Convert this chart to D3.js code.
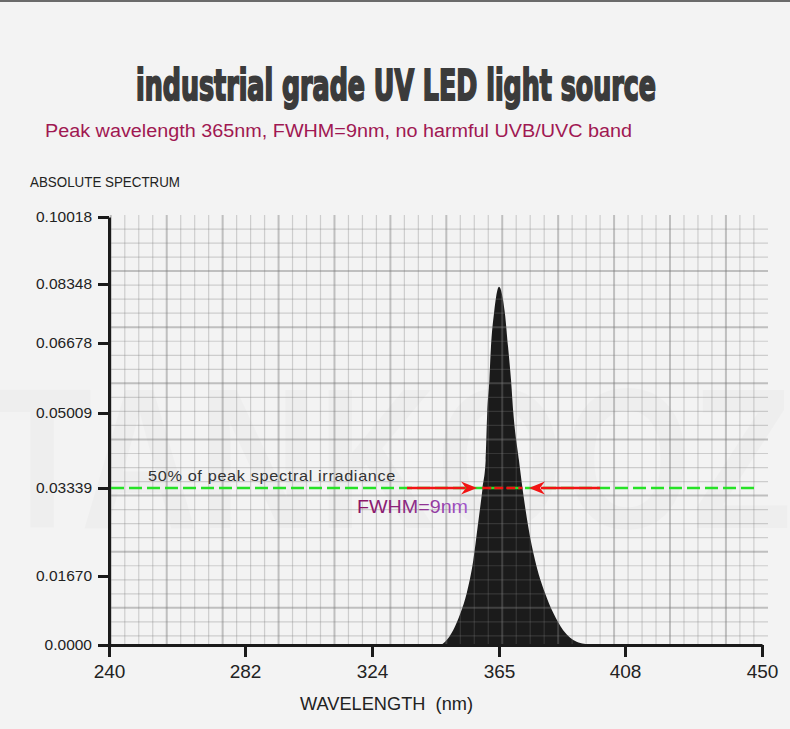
<!DOCTYPE html>
<html>
<head>
<meta charset="utf-8">
<script src="https://cdn.jsdelivr.net/npm/d3@7"></script>
<style>
    body { margin: 0; background: #f3f3f3; }
    svg { display: block; font-family: "Liberation Sans", Arial, sans-serif; }
</style>
</head>
<body>
<svg class="spectrum" width="790" height="729"></svg>
<script>
// spectrum (nm, absolute irradiance)
const wavelengths = [346.3, 347.6, 350.2, 352.6, 354.6, 356.7, 358.1, 359.7, 360.7, 361.2, 361.9, 362.4, 363.4, 365.0,
    367.0, 368.1, 369.1, 369.9, 371.8, 373.0, 375.0, 377.3, 380.7, 383.5, 386.9, 391.5, 394.0, 397.1]
const irradiance = [0, 0.0008, 0.0036, 0.0078, 0.0126, 0.0197, 0.0260, 0.0334, 0.0396, 0.0501, 0.0580, 0.0658, 0.0753, 0.0827,
    0.0753, 0.0658, 0.0580, 0.0501, 0.0396, 0.0334, 0.0260, 0.0197, 0.0126, 0.0078, 0.0036, 0.0008, 0.0003, 0]

const xTicks = [240, 282, 324, 365, 408, 450]
const yTicks = [0, 0.0167, 0.03339, 0.05009, 0.06678, 0.08348, 0.10018]
const yTickLabels = ['0.0000', '0.01670', '0.03339', '0.05009', '0.06678', '0.08348', '0.10018']

const halfPeak = 0.03339
const leftArrow = [335.3, 357.9]   // tail, tip
const rightArrow = [399.5, 375.2]  // tail, tip
const insideBand = [359.6, 373.0]

const spectrum = wavelengths.map((w, i) => ({ w: w, v: irradiance[i] }))

const svg = d3.select('.spectrum')

// axis labels on the picture are not evenly spaced, so the scales follow the tick positions
const x = d3.scaleLinear().domain(xTicks).range([109, 245, 372, 499, 625, 762])
const y = d3.scaleLinear().domain(yTicks).range([645, 576, 488, 413, 343, 284, 217])

// top border
svg.append('rect').attr('x', 0).attr('y', 0).attr('width', 790).attr('height', 2).attr('fill', '#6a6a6a')

// faint watermark
svg.append('text')
    .attr('x', -8).attr('y', 528)
    .attr('textLength', 800).attr('lengthAdjust', 'spacingAndGlyphs')
    .style('font-size', '200px')
    .style('font-weight', 'bold')
    .attr('fill', '#000').attr('fill-opacity', 0.018)
    .text('TANKOOZ')

// titles
svg.append('text')
    .attr('x', 136).attr('y', 100)
    .attr('textLength', 520).attr('lengthAdjust', 'spacingAndGlyphs')
    .style('font-family', '"DejaVu Sans Condensed", "Liberation Sans Narrow", sans-serif')
    .style('font-weight', 'bold')
    .style('font-size', '42px')
    .attr('fill', '#3b3b3b')
    .attr('stroke', '#3b3b3b')
    .attr('stroke-width', 2)
    .text('industrial grade UV LED light source')

svg.append('text')
    .attr('x', 45).attr('y', 137)
    .attr('textLength', 587).attr('lengthAdjust', 'spacingAndGlyphs')
    .style('font-size', '18px')
    .attr('fill', '#a01852')
    .text('Peak wavelength 365nm, FWHM=9nm, no harmful UVB/UVC band')

svg.append('text')
    .attr('x', 30).attr('y', 187)
    .attr('textLength', 150).attr('lengthAdjust', 'spacingAndGlyphs')
    .style('font-size', '14px')
    .attr('fill', '#222')
    .text('ABSOLUTE SPECTRUM')

// spectrum area
const area = d3.area()
    .x(d => x(d.w))
    .y0(y(0))
    .y1(d => y(d.v))
    .curve(d3.curveMonotoneX)

svg.append('path')
    .datum(spectrum)
    .attr('d', area)
    .attr('fill', '#1b1b1b')

// graph paper grid, drawn over the area so it shows through the black
const gridTop = 215, gridBottom = 645, gridLeft = 110.8
const colStep = 13.98, rowStep = 14.03
const cols = d3.range(0, 47).map(i => ({ x: gridLeft + i * colStep, major: i % 4 === 0 }))
const rows = d3.range(1, 31).map(i => ({ y: gridTop + i * rowStep, major: i % 4 === 0 }))

const minorStroke = 'rgba(120,120,120,0.3)'
const majorStroke = 'rgba(120,120,120,0.42)'

const grid = svg.append('g').attr('class', 'grid')

grid.selectAll('.col')
    .data(cols)
    .enter()
    .append('line')
    .attr('x1', d => d.x).attr('x2', d => d.x)
    .attr('y1', gridTop).attr('y2', gridBottom)
    .attr('stroke', d => d.major ? majorStroke : minorStroke)
    .attr('stroke-width', d => d.major ? 2 : 1.2)

grid.selectAll('.row')
    .data(rows)
    .enter()
    .append('line')
    .attr('x1', 109).attr('x2', 768)
    .attr('y1', d => d.y).attr('y2', d => d.y)
    .attr('stroke', d => d.major ? majorStroke : minorStroke)
    .attr('stroke-width', d => d.major ? 2 : 1.2)

// 50% line and FWHM arrows
const yHalf = y(halfPeak)

svg.append('line')
    .attr('x1', 111).attr('x2', 757)
    .attr('y1', yHalf).attr('y2', yHalf)
    .attr('stroke', '#26e226')
    .attr('stroke-width', 2.5)
    .attr('stroke-dasharray', '13,5')

svg.append('line')
    .attr('x1', x(insideBand[0])).attr('x2', x(insideBand[1]))
    .attr('y1', yHalf).attr('y2', yHalf)
    .attr('stroke', '#f21414')
    .attr('stroke-width', 2.5)
    .attr('stroke-dasharray', '9,3')

const arrowHead = (tip, dir) => {
    const p = d3.path()
    p.moveTo(tip, yHalf)
    p.lineTo(tip - dir * 16, yHalf - 6.5)
    p.lineTo(tip - dir * 11, yHalf)
    p.lineTo(tip - dir * 16, yHalf + 6.5)
    p.closePath()
    return p.toString()
}

;[leftArrow, rightArrow].forEach(a => {
    const tail = x(a[0]), tip = x(a[1])
    const dir = tip > tail ? 1 : -1
    svg.append('line')
        .attr('x1', tail).attr('x2', tip - dir * 12)
        .attr('y1', yHalf).attr('y2', yHalf)
        .attr('stroke', '#f21414')
        .attr('stroke-width', 2.5)
    svg.append('path')
        .attr('d', arrowHead(tip, dir))
        .attr('fill', '#f21414')
})

svg.append('text')
    .attr('x', 148).attr('y', 481)
    .attr('textLength', 248).attr('lengthAdjust', 'spacingAndGlyphs')
    .style('font-size', '15px')
    .style('letter-spacing', '0.6px')
    .attr('fill', '#333')
    .text('50% of peak spectral irradiance')

const defs = svg.append('defs')
const grad = defs.append('linearGradient')
    .attr('id', 'fwhm-grad')
    .attr('gradientUnits', 'userSpaceOnUse')
    .attr('x1', 357).attr('x2', 468).attr('y1', 0).attr('y2', 0)
grad.append('stop').attr('offset', '0%').attr('stop-color', '#8a1462')
grad.append('stop').attr('offset', '50%').attr('stop-color', '#8c2a86')
grad.append('stop').attr('offset', '100%').attr('stop-color', '#a056cc')

svg.append('text')
    .attr('x', 357).attr('y', 513)
    .attr('textLength', 111).attr('lengthAdjust', 'spacingAndGlyphs')
    .style('font-size', '18px')
    .attr('fill', 'url(#fwhm-grad)')
    .text('FWHM=9nm')

// axes
const yAxis = svg.append('g')
    .attr('transform', 'translate(109,0)')
    .call(d3.axisLeft(y)
        .tickValues(yTicks)
        .tickFormat((d, i) => yTickLabels[i])
        .tickSize(11)
        .tickSizeOuter(0)
        .tickPadding(6))

const xAxis = svg.append('g')
    .attr('transform', 'translate(0,645)')
    .call(d3.axisBottom(x)
        .tickValues(xTicks)
        .tickFormat(d3.format('d'))
        .tickSize(12)
        .tickSizeOuter(0)
        .tickPadding(8))

;[yAxis, xAxis].forEach(ax => {
    ax.select('.domain').attr('stroke', '#1a1a1a').attr('stroke-width', 3)
    ax.selectAll('.tick line').attr('stroke', '#1a1a1a').attr('stroke-width', 3)
    ax.selectAll('.tick text')
        .attr('fill', '#222')
        .style('font-family', '"Liberation Sans", Arial, sans-serif')
})
yAxis.selectAll('.tick text').style('font-size', '15.5px')
xAxis.selectAll('.tick text').style('font-size', '19px')

svg.append('text')
    .attr('x', 300).attr('y', 710)
    .attr('textLength', 173).attr('lengthAdjust', 'spacingAndGlyphs')
    .style('font-size', '19px')
    .style('white-space', 'pre')
    .attr('fill', '#222')
    .text('WAVELENGTH  (nm)')
</script>
</body>
</html>
